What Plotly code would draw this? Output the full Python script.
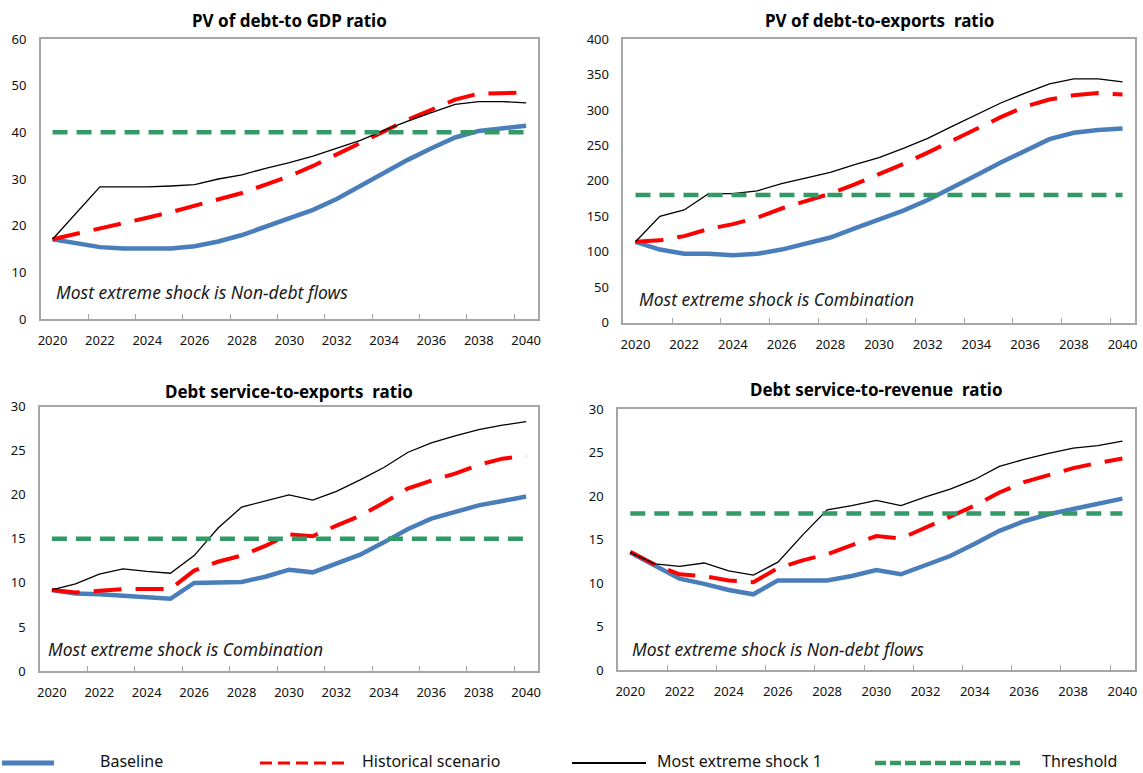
import plotly.graph_objects as go

# Projection years
years = list(range(2020, 2041))

# PV of debt-to-GDP ratio
gdp_baseline = [17.1, 16.2, 15.4, 15.1, 15.0, 15.1, 15.6, 16.6, 18.0, 19.8, 21.4,
                23.4, 25.7, 28.5, 31.4, 34.1, 36.6, 38.9, 40.3, 40.8, 41.4]
gdp_historical = [17.1, 18.2, 19.4, 20.5, 21.7, 22.9, 24.2, 25.5, 27.0, 28.8, 30.6,
                  32.8, 35.2, 37.6, 40.2, 42.7, 44.8, 47.0, 48.3, 48.5, 48.5]
gdp_shock = [17.1, 22.7, 28.3, 28.3, 28.3, 28.5, 28.8, 30.0, 30.9, 32.3, 33.5,
             34.9, 36.6, 38.3, 40.4, 42.4, 44.2, 46.0, 46.6, 46.6, 46.3]
gdp_threshold = 40

# PV of debt-to-exports ratio
exp_baseline = [114, 103, 97, 97, 95, 97, 103, 111, 120, 133, 145,
                158, 173, 190, 208, 226, 243, 259, 268, 272, 274]
exp_historical = [114, 116, 122, 132, 139, 148, 161, 171, 182, 195, 209,
                  224, 240, 257, 274, 290, 305, 315, 321, 324, 322]
exp_shock = [114, 150, 159, 182, 182, 186, 196, 204, 212, 223, 233,
             246, 260, 277, 293, 310, 324, 337, 344, 344, 340]
exp_threshold = 180

# Debt service-to-exports ratio
dse_baseline = [9.2, 8.8, 8.7, 8.5, 8.4, 8.2, 10.0, 10.1, 10.1, 10.7, 11.5,
                11.2, 12.2, 13.2, 14.6, 16.1, 17.3, 18.0, 18.8, 19.3, 19.8]
dse_historical = [9.2, 8.9, 9.1, 9.3, 9.3, 9.3, 11.4, 12.4, 13.1, 14.2, 15.5,
                  15.3, 16.5, 17.6, 19.1, 20.7, 21.6, 22.4, 23.4, 24.1, 24.4]
dse_shock = [9.2, 9.9, 11.0, 11.6, 11.3, 11.1, 13.1, 16.2, 18.6, 19.3, 20.0,
             19.4, 20.4, 21.7, 23.1, 24.8, 25.9, 26.7, 27.4, 27.9, 28.3]
dse_threshold = 15

# Debt service-to-revenue ratio
dsr_baseline = [13.5, 12.0, 10.5, 9.9, 9.2, 8.7, 10.3, 10.3, 10.3, 10.8, 11.5,
                11.0, 12.1, 13.1, 14.5, 16.0, 17.1, 17.9, 18.5, 19.1, 19.7]
dsr_historical = [13.6, 12.1, 11.0, 10.8, 10.3, 10.1, 11.7, 12.6, 13.3, 14.3, 15.4,
                  15.1, 16.4, 17.6, 18.9, 20.4, 21.6, 22.4, 23.2, 23.8, 24.3]
dsr_shock = [13.5, 12.2, 11.9, 12.3, 11.4, 10.9, 12.4, 15.5, 18.4, 18.9, 19.5,
             18.9, 19.9, 20.8, 21.9, 23.4, 24.2, 24.9, 25.5, 25.8, 26.3]
dsr_threshold = 18

titles = ["PV of debt-to GDP ratio", "PV of debt-to-exports  ratio",
          "Debt service-to-exports  ratio", "Debt service-to-revenue  ratio"]
notes = ["Most extreme shock is Non-debt flows", "Most extreme shock is Combination",
         "Most extreme shock is Combination", "Most extreme shock is Non-debt flows"]
y_ranges = [(0, 60, 10), (0, 400, 50), (0, 30, 5), (0, 30, 5)]
series_names = ["Baseline", "Historical scenario", "Most extreme shock 1", "Threshold"]

panels = [
    (gdp_baseline, gdp_historical, gdp_shock, gdp_threshold),
    (exp_baseline, exp_historical, exp_shock, exp_threshold),
    (dse_baseline, dse_historical, dse_shock, dse_threshold),
    (dsr_baseline, dsr_historical, dsr_shock, dsr_threshold),
]

W, H = 1143, 773
FONT = "Noto Sans"
BLUE = "#4a7ebb"
RED = "#ff0000"
GREEN = "#339966"
AXIS_GREY = "#a6a6a6"

# plot-area boxes in pixels: left, right, top, bottom
boxes = [
    (40.7, 538.0, 39.0, 319.0),
    (623.3, 1134.7, 39.3, 322.5),
    (40.0, 538.0, 406.7, 671.0),
    (618.0, 1134.7, 409.0, 670.0),
]
title_y = [20, 20, 391, 389]
note_pos = [(54, 292), (637, 299), (46, 649), (630, 649)]


def px_x(v):
    return v / W


def px_y(v):
    return 1 - v / H


fig = go.Figure()
layout = {}
annotations = []
shapes = []

for i, (base, hist, shock, thr) in enumerate(panels):
    n = i + 1
    xa = "x" if n == 1 else f"x{n}"
    ya = "y" if n == 1 else f"y{n}"
    l, r, t, b = boxes[i]

    fig.add_trace(go.Scatter(x=years, y=base, mode="lines", xaxis=xa, yaxis=ya,
                             line=dict(color=BLUE, width=4.5), showlegend=False,
                             name=series_names[0]))
    fig.add_trace(go.Scatter(x=years, y=hist, mode="lines", xaxis=xa, yaxis=ya,
                             line=dict(color=RED, width=4, dash="28px,14px"),
                             showlegend=False, name=series_names[1]))
    fig.add_trace(go.Scatter(x=years, y=shock, mode="lines", xaxis=xa, yaxis=ya,
                             line=dict(color="#000000", width=1.3), showlegend=False,
                             name=series_names[2]))
    fig.add_trace(go.Scatter(x=years, y=[thr] * len(years), mode="lines", xaxis=xa,
                             yaxis=ya, line=dict(color=GREEN, width=4.5, dash="15px,9px"),
                             showlegend=False, name=series_names[3]))

    ymin, ymax, ystep = y_ranges[i]
    layout["xaxis" if n == 1 else f"xaxis{n}"] = dict(
        domain=[px_x(l), px_x(r)], anchor=ya, range=[2019.5, 2040.5],
        tickmode="array", tickvals=years[::2], ticktext=[str(v) for v in years[::2]],
        ticks="", showgrid=False, zeroline=False, automargin=False,
        showline=True, mirror=True, linecolor=AXIS_GREY, linewidth=1.5,
        tickfont=dict(family=FONT, size=13, color="#111111"),
        ticklabelstandoff=9,
        minor=dict(tickmode="array", tickvals=[y + 1.5 for y in years[:-1:2]][:10],
                   ticks="inside", ticklen=5, tickwidth=1.2, tickcolor=AXIS_GREY,
                   showgrid=False),
        fixedrange=True,
    )
    layout["yaxis" if n == 1 else f"yaxis{n}"] = dict(
        domain=[px_y(b), px_y(t)], anchor=xa, range=[ymin, ymax], dtick=ystep,
        tick0=0, ticks="", showgrid=False, zeroline=False, automargin=False,
        showline=True, mirror=True, linecolor=AXIS_GREY, linewidth=1.5,
        tickfont=dict(family=FONT, size=13, color="#111111"),
        ticklabelstandoff=10, fixedrange=True,
    )

    annotations.append(dict(
        x=px_x((l + r) / 2), y=px_y(title_y[i]), xref="paper", yref="paper",
        text=f"<b>{titles[i]}</b>", showarrow=False, xanchor="center", yanchor="middle",
        font=dict(family=FONT, size=17, color="#000000"),
    ))
    nx, ny = note_pos[i]
    annotations.append(dict(
        x=px_x(nx), y=px_y(ny), xref="paper", yref="paper",
        text=f"<i>{notes[i]}</i>", showarrow=False, xanchor="left", yanchor="middle",
        font=dict(family=FONT, size=17.5, color="#1a1a1a"),
    ))

# legend row along the bottom
legend_y = 761
legend_items = [
    (series_names[0], (2, 54), dict(color=BLUE, width=5), 98),
    (series_names[1], (260, 346), dict(color=RED, width=3, dash="12px,6px"), 360),
    (series_names[2], (572, 646), dict(color="#000000", width=2), 655),
    (series_names[3], (875, 1020), dict(color=GREEN, width=4.5, dash="11px,4px"), 1040),
]
for label, (x0, x1), style, tx in legend_items:
    shapes.append(dict(type="line", xref="paper", yref="paper",
                       x0=px_x(x0), x1=px_x(x1), y0=px_y(legend_y + 2), y1=px_y(legend_y + 2),
                       line=style))
    annotations.append(dict(
        x=px_x(tx), y=px_y(legend_y), xref="paper", yref="paper", text=label,
        showarrow=False, xanchor="left", yanchor="middle",
        font=dict(family=FONT, size=16, color="#111111"),
    ))

fig.update_layout(
    width=W, height=H, margin=dict(l=0, r=0, t=0, b=0, autoexpand=False),
    paper_bgcolor="white", plot_bgcolor="white", showlegend=False,
    annotations=annotations, shapes=shapes, **layout,
)

fig.write_html("out.html")
